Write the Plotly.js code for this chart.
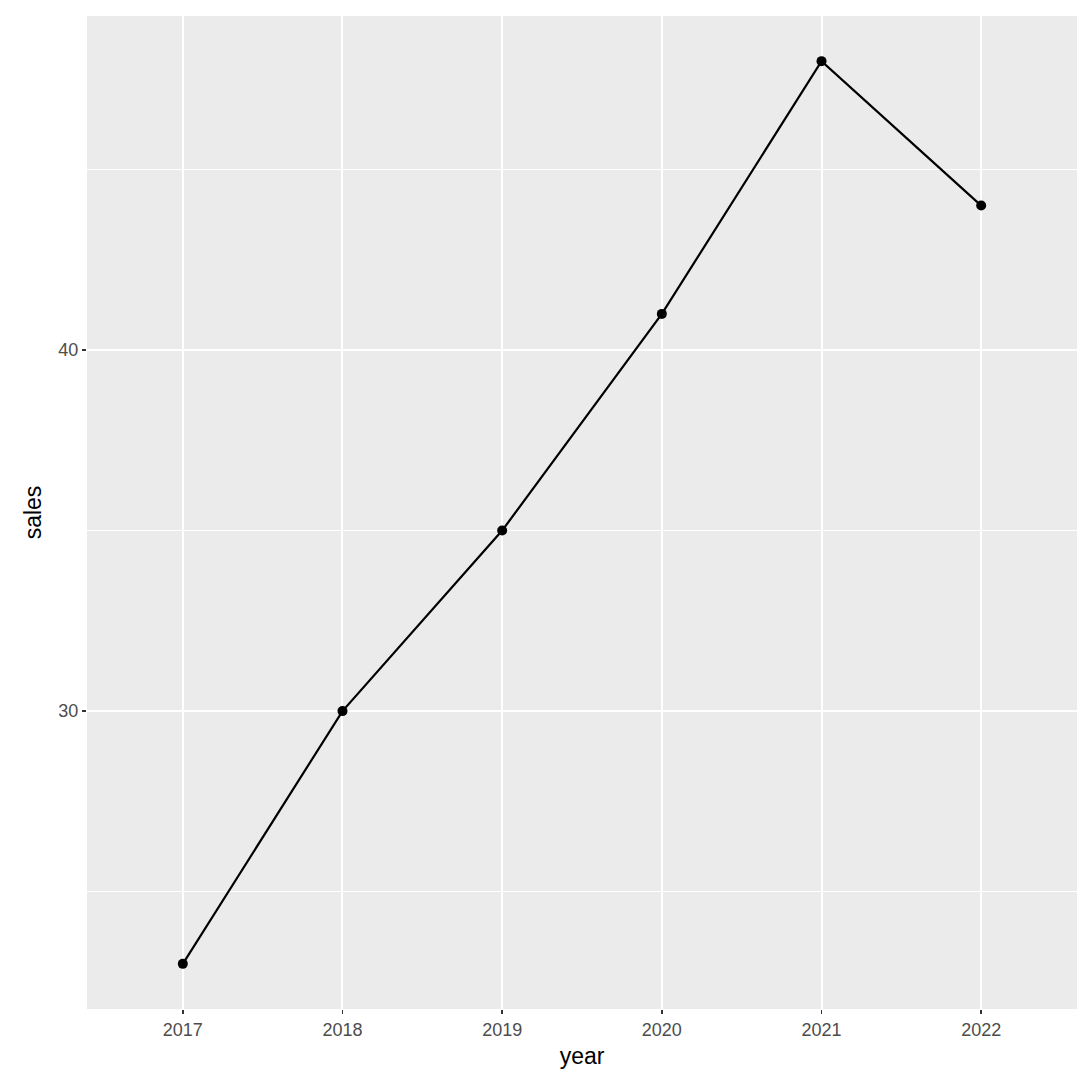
<!DOCTYPE html>
<html>
<head>
<meta charset="utf-8">
<script src="https://cdn.plot.ly/plotly-3.0.1.min.js"></script>
<style>html,body{margin:0;padding:0;background:#fff;}#chart{width:1088px;height:1088px;}</style>
</head>
<body>
<div id="chart"></div>
<script>
const years = ["2017", "2018", "2019", "2020", "2021", "2022"];
const sales = [23, 30, 35, 41, 48, 44];

const trace = {
  x: years,
  y: sales,
  type: "scatter",
  mode: "lines+markers",
  line: {color: "#000000", width: 2.2},
  marker: {color: "#000000", size: 10},
  hoverinfo: "x+y"
};

const layout = {
  width: 1088,
  height: 1088,
  margin: {l: 87, r: 11, t: 16, b: 79},
  paper_bgcolor: "#ffffff",
  plot_bgcolor: "#ebebeb",
  showlegend: false,
  font: {family: "Liberation Sans, Arial, sans-serif"},
  xaxis: {
    type: "category",
    categoryorder: "array",
    categoryarray: years,
    range: [-0.6, 5.6],
    showgrid: true,
    gridcolor: "#ffffff",
    gridwidth: 2,
    zeroline: false,
    showline: false,
    ticks: "outside",
    ticklen: 4,
    tickwidth: 1.5,
    tickcolor: "#333333",
    tickfont: {size: 18, color: "#4d4d4d"},
    title: {text: "year", font: {size: 23, color: "#000000"}, standoff: 9}
  },
  yaxis: {
    range: [21.75, 49.25],
    tickvals: [30, 40],
    ticktext: ["30", "40"],
    showgrid: true,
    gridcolor: "#ffffff",
    gridwidth: 2,
    minor: {tickvals: [25, 35, 45], showgrid: true, gridcolor: "#ffffff", gridwidth: 1, ticks: ""},
    zeroline: false,
    showline: false,
    ticks: "outside",
    ticklen: 4,
    tickwidth: 1.5,
    tickcolor: "#333333",
    tickfont: {size: 18, color: "#4d4d4d"},
    title: {text: "sales", font: {size: 23, color: "#000000"}, standoff: 10}
  }
};

Plotly.newPlot("chart", [trace], layout, {displayModeBar: false, staticPlot: true});
</script>
</body>
</html>
